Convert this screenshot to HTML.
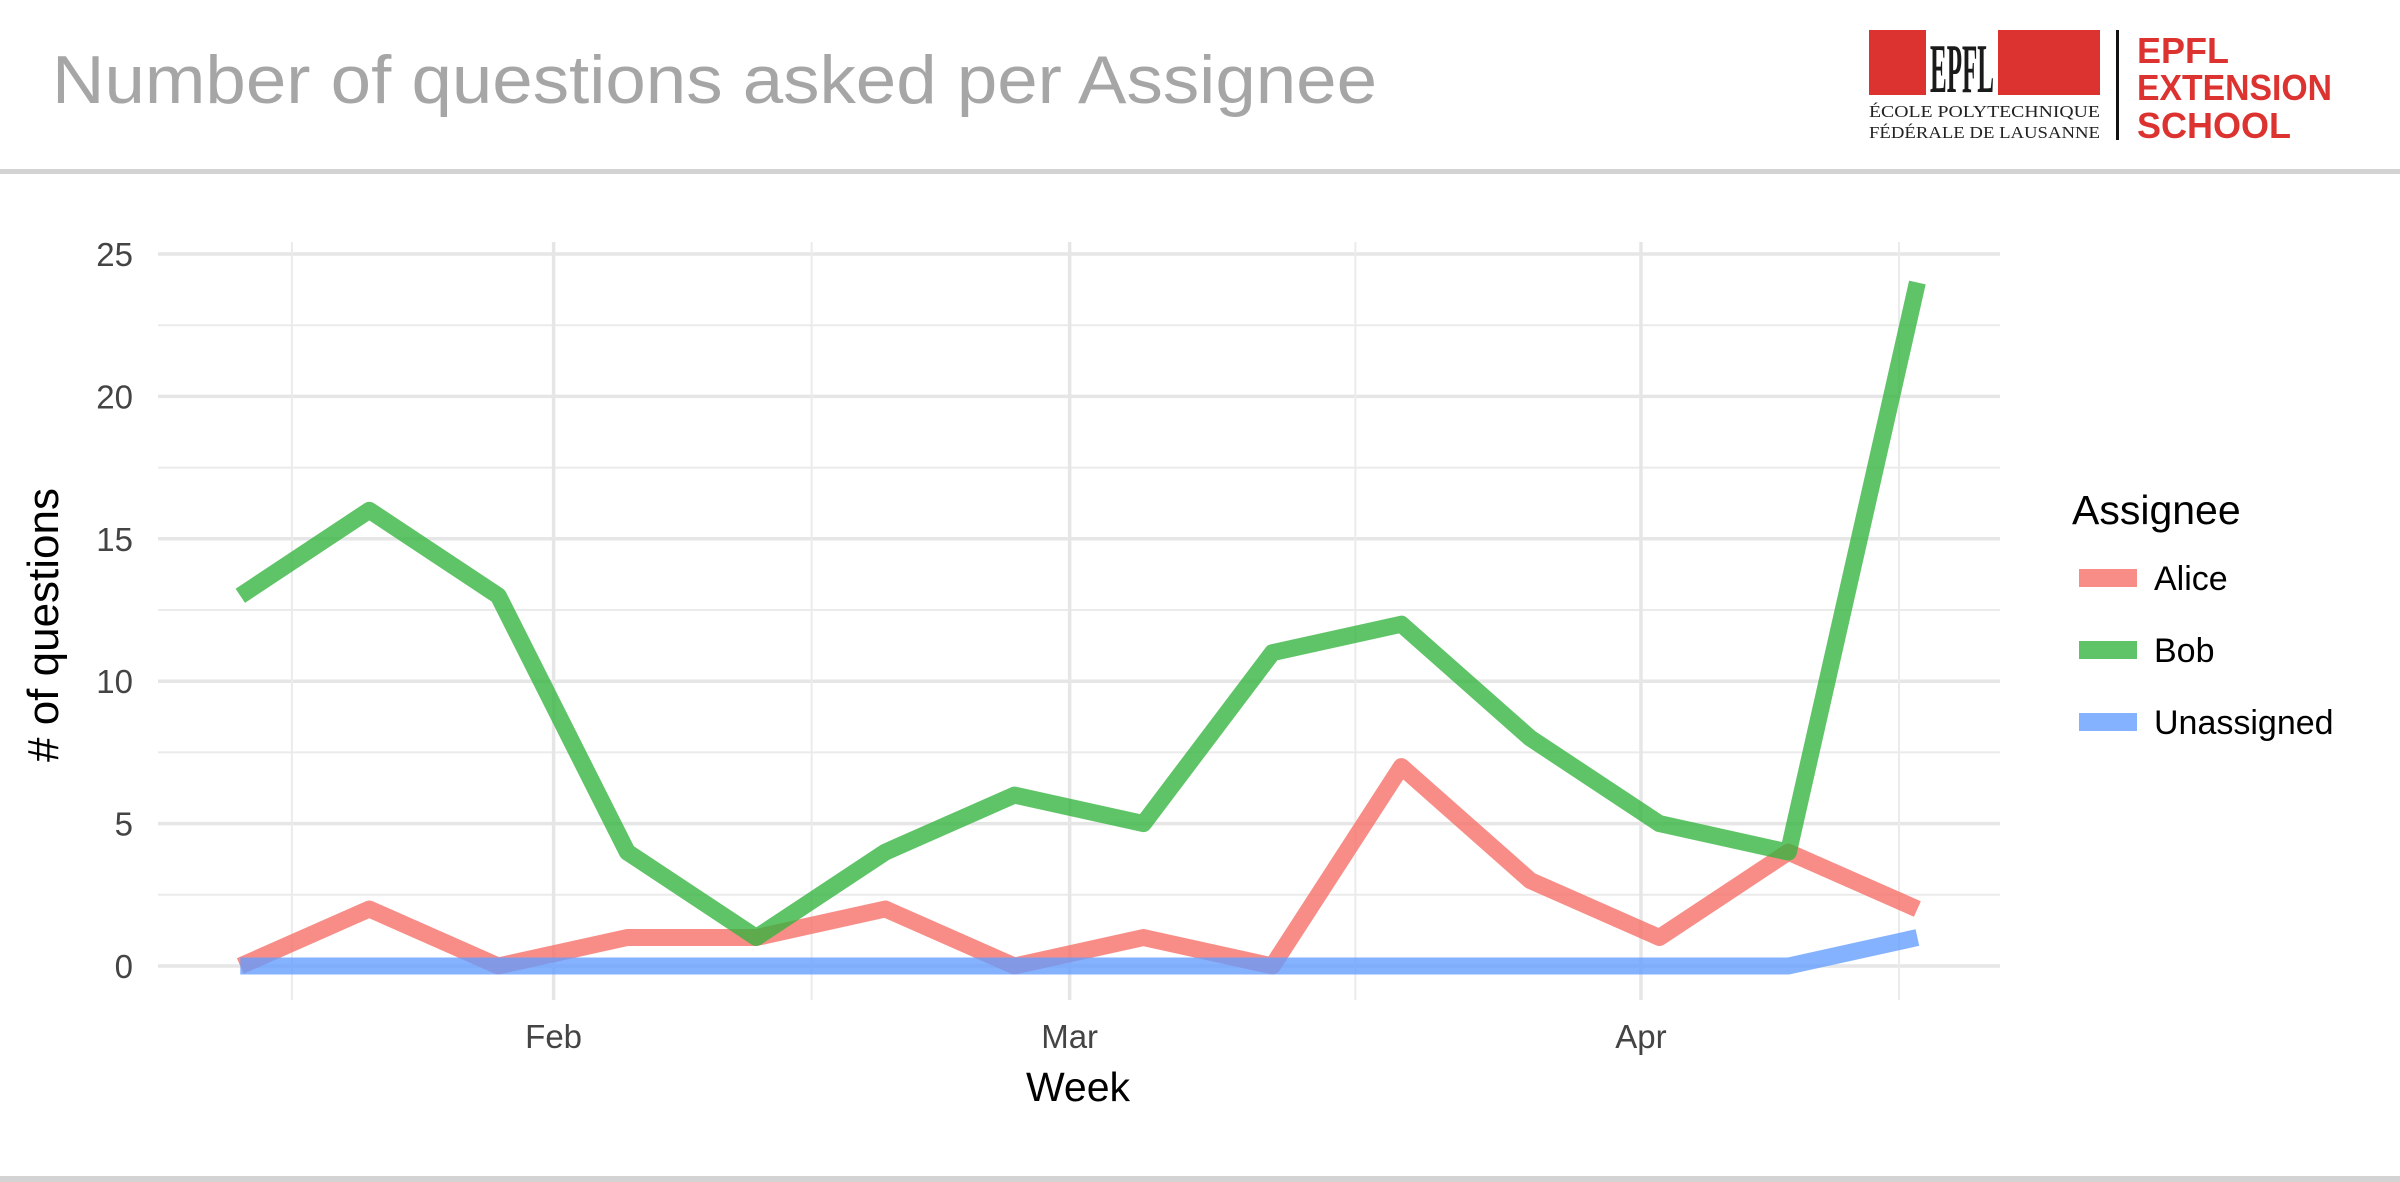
<!DOCTYPE html>
<html><head><meta charset="utf-8"><style>
html,body{margin:0;padding:0;background:#fff;}
body{width:2400px;height:1182px;position:relative;overflow:hidden;font-family:"Liberation Sans",sans-serif;}
svg{position:absolute;left:0;top:0;}
</style></head><body>
<svg id="chart" width="2400" height="1182" viewBox="0 0 2400 1182">
<text x="52" y="103" font-size="68" fill="#a6a6a6" textLength="1325" lengthAdjust="spacingAndGlyphs">Number of questions asked per Assignee</text>
<g>
<rect x="1869" y="30" width="231" height="65" fill="#dc3331"/>
<rect x="1926" y="30" width="72" height="65" fill="#fff"/>
<text x="1962" y="92" font-size="70" text-anchor="middle" font-family="Liberation Serif,serif" font-weight="bold" fill="#1a1a1a" textLength="64" lengthAdjust="spacingAndGlyphs">EPFL</text>
<text x="1869" y="117" font-size="17" font-family="Liberation Serif,serif" fill="#222" textLength="231" lengthAdjust="spacingAndGlyphs">ÉCOLE POLYTECHNIQUE</text>
<text x="1869" y="138" font-size="17" font-family="Liberation Serif,serif" fill="#222" textLength="231" lengthAdjust="spacingAndGlyphs">FÉDÉRALE DE LAUSANNE</text>
<rect x="2116" y="30" width="3" height="110" fill="#111"/>
<text x="2137" y="63" font-size="36" font-weight="bold" fill="#dc3331">EPFL</text>
<text x="2137" y="100" font-size="36" font-weight="bold" fill="#dc3331" textLength="195" lengthAdjust="spacingAndGlyphs">EXTENSION</text>
<text x="2137" y="138" font-size="36" font-weight="bold" fill="#dc3331">SCHOOL</text>
</g>
<rect x="0" y="169" width="2400" height="5" fill="#d3d3d3"/>
<rect x="0" y="1176" width="2400" height="6" fill="#d3d3d3"/>
<g id="grid"></g>
<g id="series"></g>
<g id="axes"></g>
<text x="1078" y="1101" font-size="41" text-anchor="middle" fill="#000">Week</text>
<text transform="translate(58,625) rotate(-90)" font-size="44" text-anchor="middle" fill="#000"># of questions</text>
<g>
<text x="2072" y="524" font-size="41" fill="#000">Assignee</text>
<g id="legend-items"></g>
</g>
</svg>
<script>
// data: days since Jan 15
const weeks = [0,7,14,21,28,35,42,49,56,63,70,77,84,91];
const alice = [0,2,0,1,1,2,0,1,0,7,3,1,4,2];
const bob = [13,16,13,4,1,4,6,5,11,12,8,5,4,24];
const unassigned = [0,0,0,0,0,0,0,0,0,0,0,0,0,1];
const seriesNames = ["Alice","Bob","Unassigned"];
const yTicks = [0,5,10,15,20,25];
const xTickDays = [17,45,76];
const xTickLabels = ["Feb","Mar","Apr"];
const xMinorDays = [2.8,31,60.5,90];

const NS="http://www.w3.org/2000/svg";
const X0=158,X1=2000;
function xs(d){return 240.3+d*18.43;}
function ys(v){return 966-v*28.48;}
function mk(tag,attrs,parent){const e=document.createElementNS(NS,tag);for(const k in attrs)e.setAttribute(k,attrs[k]);parent.appendChild(e);return e;}
const grid=document.getElementById('grid'),ser=document.getElementById('series'),axes=document.getElementById('axes');
for(let v=2.5;v<25;v+=5){
  const l=mk('line',{x1:X0,x2:X1,y1:ys(v),y2:ys(v),stroke:'#ebebeb','stroke-width':2},grid);
  
  
}
yTicks.forEach(v=>{
  const l=mk('line',{x1:X0,x2:X1,y1:ys(v),y2:ys(v),stroke:'#e6e6e6','stroke-width':3.5},grid);
  
  
  const t=mk('text',{x:133,y:ys(v)+12,'font-size':33,'text-anchor':'end',fill:'#444'},axes);
  t.textContent=v;
  
  
});
xMinorDays.forEach(d=>{
  const l=mk('line',{x1:xs(d),x2:xs(d),y1:242,y2:1000,stroke:'#ebebeb','stroke-width':2},grid);
  
  
});
xTickDays.forEach((d,i)=>{
  const l=mk('line',{x1:xs(d),x2:xs(d),y1:242,y2:1000,stroke:'#e6e6e6','stroke-width':3.5},grid);
  
  
  const t=mk('text',{x:xs(d),y:1048,'font-size':33,'text-anchor':'middle',fill:'#444'},axes);
  t.textContent=xTickLabels[i];
  
  
});
const colors=['rgba(246,113,105,0.8)','rgba(50,180,60,0.78)','rgba(97,156,255,0.78)'];
const datas=[alice,bob,unassigned];
datas.forEach((arr,i)=>{
  const pts=arr.map((v,j)=>xs(weeks[j]).toFixed(1)+','+ys(v).toFixed(1)).join(' ');
  const p=mk('polyline',{points:pts,fill:'none',stroke:colors[i],'stroke-width':17,'stroke-linejoin':'round'},ser);
  
  
});
const li=document.getElementById('legend-items');
const ly=[578,650,722];
seriesNames.forEach((n,i)=>{
  const r=mk('rect',{x:2079,y:ly[i]-9,width:58,height:18,fill:colors[i]},li);
  
  
  const t=mk('text',{x:2154,y:ly[i]+12,'font-size':34,fill:'#000'},li);
  t.textContent=n;
  
  
});
</script>
</body></html>
